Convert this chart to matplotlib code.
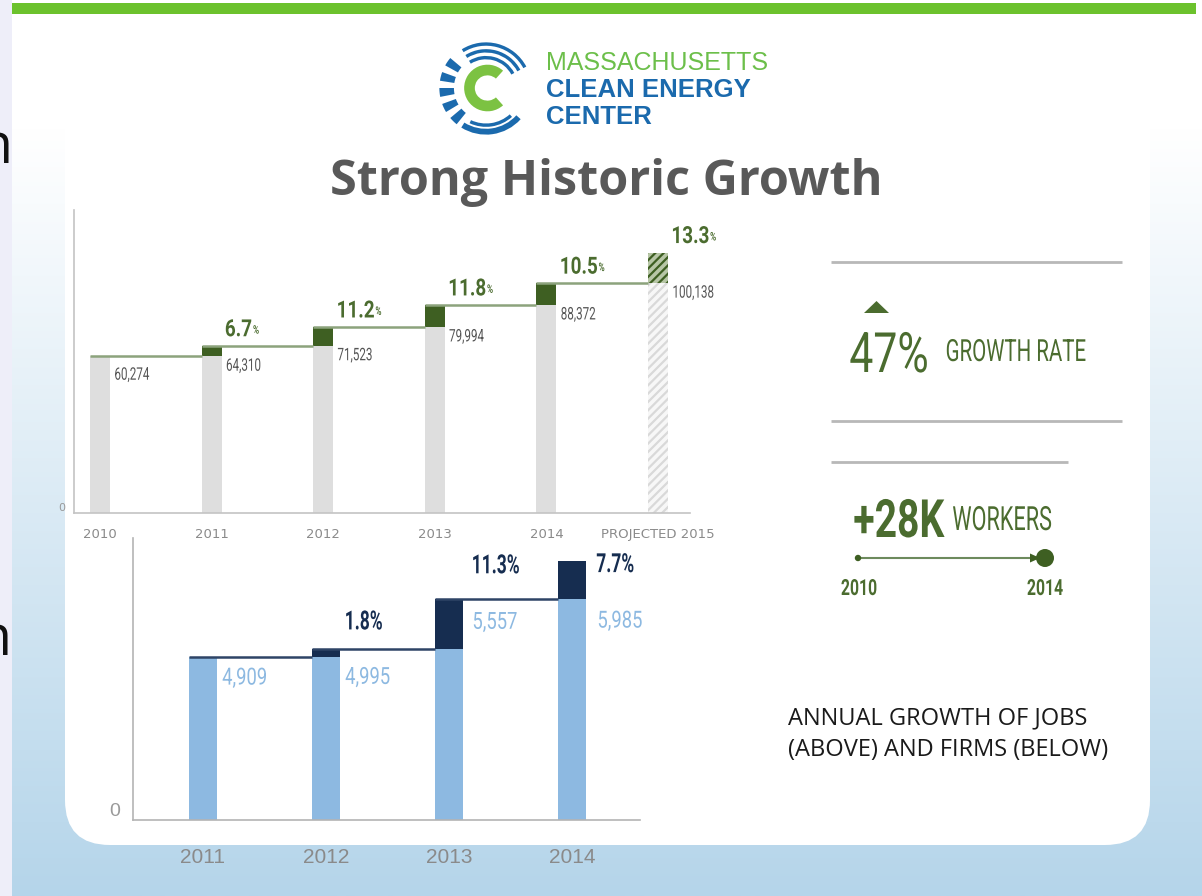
import numpy as np
import matplotlib
matplotlib.use("Agg")
import matplotlib.pyplot as plt
import matplotlib.patheffects as pe
from matplotlib.transforms import Affine2D
from matplotlib.patches import FancyBboxPatch, Rectangle, Wedge, Polygon, Circle
from matplotlib.font_manager import fontManager

# ---------------- data ----------------
jobs_years = ['2010', '2011', '2012', '2013', '2014', 'PROJECTED 2015']
jobs_values = [60274, 64310, 71523, 79994, 88372, 100138]
jobs_growth = ['', '6.7', '11.2', '11.8', '10.5', '13.3']
jobs_value_labels = ['60,274', '64,310', '71,523', '79,994', '88,372', '100,138']

firm_years = ['2011', '2012', '2013', '2014']
firm_values = [4909, 4995, 5557, 5985]
firm_growth = ['', '1.8%', '11.3%', '7.7%']
firm_value_labels = ['4,909', '4,995', '5,557', '5,985']

growth_rate = '47%'
added_workers = '+28K'
span_years = ['2010', '2014']

# ---------------- fonts / colours ----------------
names = {f.name for f in fontManager.ttflist}
def pick(*cands):
    for c in cands:
        if c in names:
            return c
    return 'DejaVu Sans'
COND = pick('Roboto', 'Liberation Sans', 'DejaVu Sans')
ARIAL = pick('Liberation Sans', 'DejaVu Sans')
HUMAN = pick('Open Sans', 'Lato', 'DejaVu Sans')


class Squeeze(pe.AbstractPathEffect):
    """Draw the glyph outlines narrower (condensed look); the artist stays a Text.
    If `follow` is given, the glyphs are also slid left by the width that the
    squeeze of that (preceding) text removed, so they sit right after it."""
    def __init__(self, sx=0.75, anchor='left', follow=None, follow_sx=1.0):
        super().__init__()
        self.sx = sx
        self.anchor = anchor
        self.follow = follow
        self.follow_sx = follow_sx

    def draw_path(self, renderer, gc, tpath, affine, rgbFace=None):
        ext = tpath.get_extents(affine)
        if self.anchor == 'left':
            x0 = ext.x0
        elif self.anchor == 'center':
            x0 = 0.5 * (ext.x0 + ext.x1)
        else:
            x0 = ext.x1
        dx = 0.0
        if self.follow is not None:
            wb = self.follow.get_window_extent(renderer)
            dx = -(1 - self.follow_sx) * wb.width
        aff = affine + Affine2D().translate(-x0, 0).scale(self.sx, 1).translate(x0 + dx, 0)
        renderer.draw_path(gc, tpath, aff, rgbFace)


def sq(sx, anchor='left', follow=None, follow_sx=1.0):
    return [Squeeze(sx, anchor, follow, follow_sx)]


GREEN_BLK = '#3e5f22'
GREEN_TXT = '#4b6c2f'
GREEN_LINE = '#8ca37c'
GRAY_BAR = '#dedede'
LBLUE = '#8db9e1'
NAVY = '#162d50'

plt.rcParams['hatch.linewidth'] = 1.6

W, H = 1202, 896
fig = plt.figure(figsize=(W / 100, H / 100), dpi=100)

# ---------------- background overlay (pixel coords) ----------------
bg = fig.add_axes([0, 0, 1, 1], zorder=0)
bg.set_xlim(0, W)
bg.set_ylim(H, 0)
bg.axis('off')

yy = np.linspace(0, H, 400)
t = np.clip((yy - 130) / (H - 130), 0, 1)
top = np.array([1.0, 1.0, 1.0])
bot = np.array([0xb5, 0xd5, 0xea]) / 255
grad = (top[None, :] * (1 - t[:, None]) + bot[None, :] * t[:, None])[:, None, :]
bg.imshow(grad, extent=(12, W, H, 0), aspect='auto', zorder=0)
bg.add_patch(Rectangle((0, 0), 12, H, fc='#eeeef9', ec='none', zorder=1))
bg.add_patch(Rectangle((12, 3), 1184, 11, fc='#6cc22d', ec='none', zorder=3))
bg.add_patch(FancyBboxPatch((65, -120), 1085, 965, boxstyle='round,pad=0,rounding_size=45',
                            fc='white', ec='none', zorder=2))

# fragments of the slide behind (cut by the left edge, as in the reference)
bg.text(12, 163, 'n', ha='right', va='baseline', fontsize=40, family=HUMAN, color='#111111', zorder=4)
bg.text(11, 655, 'h', ha='right', va='baseline', fontsize=40, family=HUMAN, color='#111111', zorder=4)

# title
bg.text(606, 195, 'Strong Historic Growth', ha='center', va='baseline', fontsize=35,
        fontweight='bold', family=HUMAN, color='#595959', zorder=4)

# logo text
bg.text(546, 70, 'MASSACHUSETTS', ha='left', va='baseline', fontsize=18, family=ARIAL,
        color='#6cbf4a', zorder=4)
bg.text(546, 97, 'CLEAN ENERGY', ha='left', va='baseline', fontsize=18.5, fontweight='bold',
        family=ARIAL, color='#1b6aad', zorder=4)
bg.text(546, 124, 'CENTER', ha='left', va='baseline', fontsize=18.5, fontweight='bold',
        family=ARIAL, color='#1b6aad', zorder=4)

# logo icon
lax = fig.add_axes([435 / W, 1 - 139 / H, 102 / W, 102 / H], zorder=3)
lax.set_xlim(-1.05, 1.05)
lax.set_ylim(-1.05, 1.05)
lax.axis('off')
LOGO_BLUE = '#1b6aad'
for r in (0.66, 0.80, 0.94):
    lax.add_patch(Wedge((0, 0), r, 28, 122, width=0.07, fc=LOGO_BLUE, ec='none'))
for a in (140, 160, 180, 200, 220):
    lax.add_patch(Wedge((0, 0), 0.96, a, a + 11, width=0.30, fc=LOGO_BLUE, ec='none'))
lax.add_patch(Wedge((0, 0), 0.96, 238, 318, width=0.12, fc=LOGO_BLUE, ec='none'))
lax.add_patch(Wedge((0, 0), 0.80, 245, 312, width=0.07, fc=LOGO_BLUE, ec='none'))
lax.add_patch(Wedge((0.03, 0.0), 0.48, 48, 312, width=0.22, fc='#7cc242', ec='none'))

# right panel
for (x0, x1, y) in ((831, 1122, 262), (831, 1122, 421), (831, 1068, 462)):
    bg.plot([x0, x1], [y, y], color='#b8b8b8', lw=2, zorder=4, solid_capstyle='butt')
bg.add_patch(Polygon([(864, 313), (889, 313), (876.5, 301)], closed=True, fc=GREEN_TXT,
                     ec='none', zorder=4))
bg.text(929, 372, growth_rate, ha='right', va='baseline', fontsize=40, family=COND,
        color=GREEN_TXT, zorder=4, path_effects=sq(0.77, 'right'))
bg.text(945, 361, 'GROWTH RATE', ha='left', va='baseline', fontsize=22, family=COND,
        color=GREEN_TXT, zorder=4, path_effects=sq(0.67))
bg.text(944, 537, added_workers, ha='right', va='baseline', fontsize=38, fontweight='bold',
        family=COND, color=GREEN_TXT, zorder=4, path_effects=sq(0.74, 'right'))
bg.text(952, 530, 'WORKERS', ha='left', va='baseline', fontsize=24, family=COND,
        color=GREEN_TXT, zorder=4, path_effects=sq(0.65))
bg.plot([858, 1038], [558, 558], color='#6d8a5d', lw=1.5, zorder=4)
bg.add_patch(Circle((858, 558), 3.2, fc=GREEN_BLK, ec='none', zorder=5))
bg.add_patch(Polygon([(1030, 553.5), (1040, 558), (1030, 562.5)], closed=True, fc=GREEN_BLK,
                     ec='none', zorder=5))
bg.add_patch(Circle((1045, 558), 9, fc=GREEN_BLK, ec='none', zorder=5))
bg.text(859, 589, span_years[0], ha='center', va='center', fontsize=16, fontweight='bold',
        family=COND, color=GREEN_TXT, zorder=4, path_effects=sq(0.71, 'center'))
bg.text(1045, 589, span_years[1], ha='center', va='center', fontsize=16, fontweight='bold',
        family=COND, color=GREEN_TXT, zorder=4, path_effects=sq(0.71, 'center'))

bg.text(788, 718, 'ANNUAL GROWTH OF JOBS', ha='left', va='center', fontsize=17,
        family=HUMAN, color='#1a1a1a', zorder=4)
bg.text(788, 750, '(ABOVE) AND FIRMS (BELOW)', ha='left', va='center', fontsize=17,
        family=HUMAN, color='#1a1a1a', zorder=4)

# ---------------- top chart: jobs ----------------
ax1 = fig.add_axes([74 / W, 1 - 513 / H, (690 - 74) / W, (513 - 210) / H], zorder=5)
ax1.patch.set_alpha(0)
ax1.set_xlim(-0.233, 5.287)
ax1.set_ylim(0, 116500)
for s in ('top', 'right'):
    ax1.spines[s].set_visible(False)
for s in ('left', 'bottom'):
    ax1.spines[s].set_color('#c4c4c4')
    ax1.spines[s].set_linewidth(1.2)
bw1 = 0.18
n1 = len(jobs_values)
for i, v in enumerate(jobs_values):
    base = jobs_values[i - 1] if i > 0 else v
    if i < n1 - 1:
        ax1.bar(i, base, width=bw1, color=GRAY_BAR, lw=0, zorder=2)
        if i > 0:
            ax1.bar(i, v - base, bottom=base, width=bw1, color=GREEN_BLK, lw=0, zorder=3)
    else:
        ax1.bar(i, base, width=bw1, facecolor='#f7f7f7', edgecolor='#d9d9d9', hatch='////',
                lw=0, zorder=2)
        ax1.bar(i, v - base, bottom=base, width=bw1, facecolor='#b7c6a6', edgecolor=GREEN_BLK,
                hatch='////', lw=0, zorder=3)
for i in range(n1 - 1):
    ax1.plot([i - bw1 / 2, i + 1 - bw1 / 2], [jobs_values[i]] * 2, color=GREEN_LINE, lw=1.8,
             zorder=4, solid_capstyle='butt')
PCT_SX = 0.8
for i, v in enumerate(jobs_values):
    base = jobs_values[i - 1] if i > 0 else v
    off = -19 if i == 0 else -10
    ax1.annotate(jobs_value_labels[i], xy=(i + bw1 / 2, base), xytext=(4, off),
                 textcoords='offset pixels', ha='left', va='center', fontsize=12.5,
                 family=COND, color='#555555', zorder=6, path_effects=sq(0.67))
    if jobs_growth[i]:
        tx = ax1.annotate(jobs_growth[i], xy=(i + bw1 / 2, v), xytext=(3, 16),
                          textcoords='offset pixels', ha='left', va='center', fontsize=17,
                          fontweight='bold', family=COND, color=GREEN_TXT, zorder=6,
                          path_effects=sq(PCT_SX))
        ax1.annotate('%', xy=(1, 0.2), xycoords=tx, xytext=(1, 0),
                     textcoords='offset pixels', ha='left', va='bottom', fontsize=8.5,
                     fontweight='bold', family=COND, color=GREEN_TXT, zorder=6,
                     path_effects=sq(0.7, follow=tx, follow_sx=PCT_SX))
ax1.set_xticks(range(n1))
ax1.set_xticklabels(jobs_years, fontsize=9.5, color='#8a8a8a', family='DejaVu Sans')
ax1.set_yticks([0])
ax1.set_yticklabels(['0'], fontsize=8, color='#999999')
for lab in ax1.get_yticklabels():
    lab.set_va('bottom')
ax1.tick_params(axis='x', length=0, pad=11)
ax1.tick_params(axis='y', length=0, pad=6)

# ---------------- bottom chart: firms ----------------
ax2 = fig.add_axes([133 / W, 1 - 820 / H, (640 - 133) / W, (820 - 538) / H], zorder=5)
ax2.patch.set_alpha(0)
ax2.set_xlim(-0.569, 3.553)
ax2.set_ylim(3083, 6244)
for s in ('top', 'right'):
    ax2.spines[s].set_visible(False)
for s in ('left', 'bottom'):
    ax2.spines[s].set_color('#b4b4b4')
    ax2.spines[s].set_linewidth(1.2)
bw2 = 0.228
n2 = len(firm_values)
for i, v in enumerate(firm_values):
    base = firm_values[i - 1] if i > 0 else v
    ax2.bar(i, base, width=bw2, color=LBLUE, lw=0, zorder=2)
    if i > 0:
        ax2.bar(i, v - base, bottom=base, width=bw2, color=NAVY, lw=0, zorder=3)
for i in range(n2 - 1):
    ax2.plot([i - bw2 / 2, i + 1 - bw2 / 2], [firm_values[i]] * 2, color='#2e4466', lw=1.8,
             zorder=4, solid_capstyle='butt')
pct_off = [0, 27, 33, -4]
pct_dx = [0, 4, 8, 10]
val_off = [21, 28, 23, 60]
val_dx = [5, 5, 9, 11]
for i, v in enumerate(firm_values):
    ax2.annotate(firm_value_labels[i], xy=(i + bw2 / 2, v), xytext=(val_dx[i], -val_off[i]),
                 textcoords='offset pixels', ha='left', va='center', fontsize=17,
                 family=COND, color=LBLUE, zorder=6, path_effects=sq(0.78))
    if firm_growth[i]:
        ax2.annotate(firm_growth[i], xy=(i + bw2 / 2, v), xytext=(pct_dx[i], pct_off[i]),
                     textcoords='offset pixels', ha='left', va='center', fontsize=19,
                     fontweight='bold', family=COND, color=NAVY, zorder=6,
                     path_effects=sq(0.66))
ax2.set_xticks(range(n2))
ax2.set_xticklabels(firm_years, fontsize=15, color='#8a8a8a', family=ARIAL)
ax2.set_yticks([3083])
ax2.set_yticklabels(['0'], fontsize=14, color='#9a9a9a', family=ARIAL)
for lab in ax2.get_yticklabels():
    lab.set_va('bottom')
ax2.tick_params(axis='x', length=0, pad=20)
ax2.tick_params(axis='y', length=0, pad=9)

fig.savefig('out.png', dpi=100)
